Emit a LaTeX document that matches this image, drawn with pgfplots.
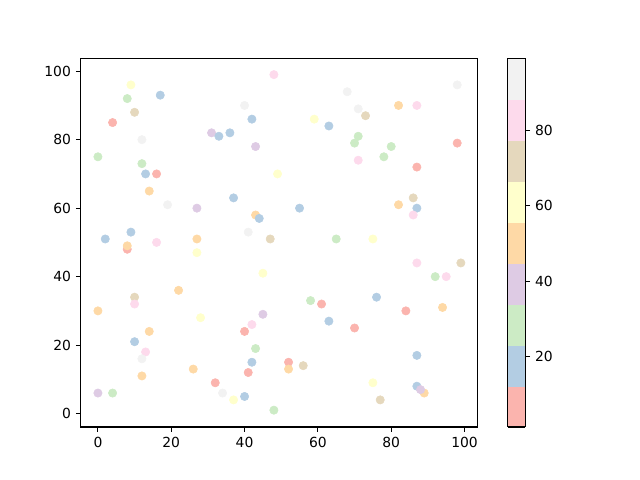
\documentclass[border=0pt]{standalone}
\usepackage{fontspec}
\setmainfont{DejaVu Sans}
\usepackage{pgfplots}
\usepackage{pgfplotstable}
\pgfplotsset{compat=1.18}

% x y c  (c = value shown by the colour bar)
\pgfplotstableread{
x y c
48 99 82.8
9 96 61.1
17 93 17.7
8 92 28.5
40 90 93.7
10 88 72.0
42 86 17.7
4 85 6.8
12 80 93.7
31 82 39.4
33 81 17.7
36 82 17.7
43 78 39.4
0 75 28.5
12 73 28.5
13 70 17.7
16 70 6.8
49 70 61.1
14 65 50.3
37 63 17.7
19 61 93.7
27 60 39.4
43 58 50.3
44 57 17.7
41 53 93.7
2 51 17.7
9 53 17.7
27 51 50.3
16 50 82.8
47 51 72.0
68 94 93.7
98 96 93.7
82 90 50.3
87 90 82.8
71 89 93.7
73 87 72.0
59 86 61.1
63 84 17.7
71 81 28.5
70 79 28.5
80 78 28.5
78 75 28.5
71 74 82.8
98 79 6.8
87 72 6.8
86 63 72.0
82 61 50.3
87 60 17.7
86 58 82.8
55 60 17.7
65 51 28.5
75 51 61.1
8 48 6.8
8 49 50.3
27 47 61.1
45 41 61.1
22 36 50.3
10 34 72.0
10 32 82.8
0 30 50.3
28 28 61.1
45 29 39.4
42 26 82.8
40 24 6.8
14 24 50.3
10 21 17.7
43 19 28.5
13 18 82.8
12 16 93.7
42 15 17.7
52 15 6.8
52 13 50.3
26 13 50.3
41 12 6.8
12 11 50.3
32 9 6.8
0 6 39.4
4 6 28.5
34 6 93.7
40 5 17.7
37 4 61.1
48 1 28.5
87 44 82.8
99 44 72.0
92 40 28.5
95 40 82.8
58 33 28.5
61 32 6.8
76 34 17.7
84 30 6.8
94 31 50.3
63 27 17.7
70 25 6.8
56 14 72.0
87 17 17.7
75 9 61.1
87 8 17.7
89 6 50.3
88 7 39.4
77 4 72.0
}\points

\pgfplotsset{
  colormap={pastelone}{
    rgb255=(251,180,174) rgb255=(179,205,227) rgb255=(204,235,197)
    rgb255=(222,203,228) rgb255=(254,217,166) rgb255=(255,255,204)
    rgb255=(229,216,189) rgb255=(253,218,236) rgb255=(242,242,242)
  },
}

\begin{document}
\begin{tikzpicture}
\path[use as bounding box] (-58.1pt,-38.2pt) rectangle (402.7pt,307.4pt);
\begin{axis}[
    at={(0,0)}, anchor=south west,
    scale only axis,
    width=285.6pt, height=265.5pt,
    xmin=-4.7, xmax=103.5,
    ymin=-3.9, ymax=103.8,
    xtick={0,20,...,100}, ytick={0,20,...,100},
    tick pos=left, tick align=outside,
    major tick length=3.5pt,
    every tick/.style={black, line width=0.8pt},
    axis line style={line width=0.8pt},
    tick label style={font=\fontsize{10}{12}\selectfont},
    /pgf/number format/assume math mode=true,
    colormap name=pastelone,
    colormap access=piecewise constant,
    point meta min=1.4, point meta max=99.1,
    colorbar,
    colorbar shift/.style={xshift=18.2pt},
    colorbar style={
        width=12.7pt,
        ytick={20,40,60,80},
        ytick pos=right,
        tick align=outside,
        major tick length=3.5pt,
        every tick/.style={black, line width=0.8pt},
        axis line style={line width=0.8pt},
        tick label style={font=\fontsize{10}{12}\selectfont},
        /pgf/number format/assume math mode=true,
    },
]
\addplot[scatter, only marks, mark=*, mark size=3pt,
    scatter/use mapped color={draw=mapped color, fill=mapped color},
    point meta=explicit]
    table[x=x, y=y, meta=c] {\points};
\end{axis}
\end{tikzpicture}
\end{document}
